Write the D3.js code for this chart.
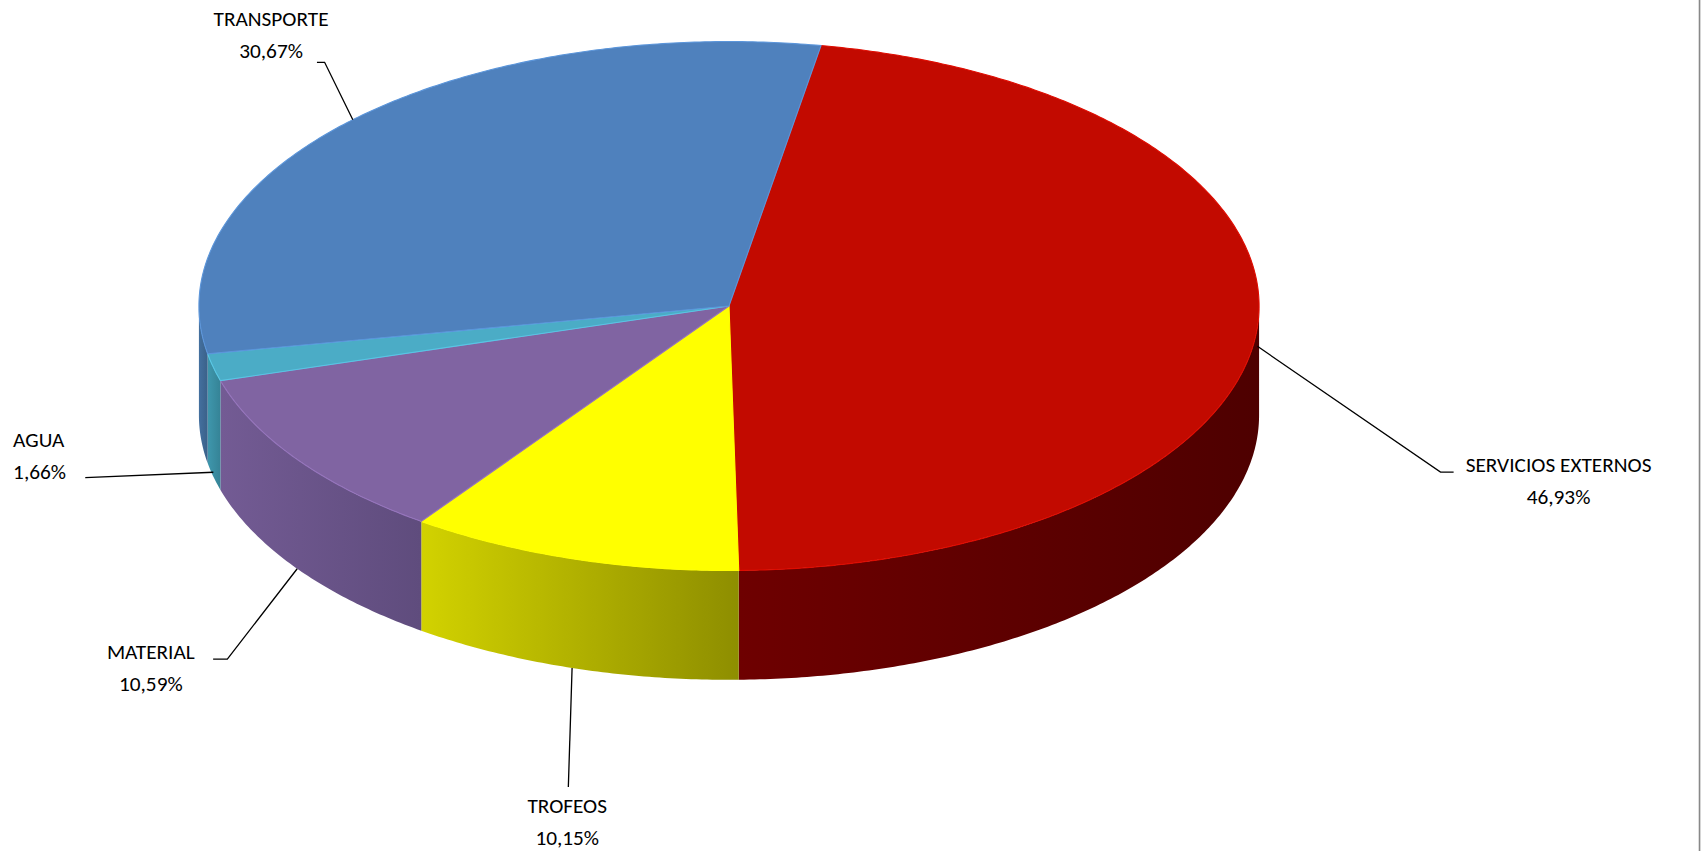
<!DOCTYPE html>
<html><head><meta charset="utf-8">
<script src="https://cdn.jsdelivr.net/npm/d3@7"></script>
<style>body{margin:0;background:#fff}svg{display:block}text{font-family:Carlito,Lato,"Open Sans",sans-serif;font-size:19.5px;fill:#000}</style>
</head><body><div id="chart"></div>
<script>
var categories = ["SERVICIOS EXTERNOS", "TROFEOS", "MATERIAL", "AGUA", "TRANSPORTE"];
var values = [46.93, 10.15, 10.59, 1.66, 30.67];
var labels = ["46,93%", "10,15%", "10,59%", "1,66%", "30,67%"];
var topColors = ["#C20A00", "#FFFF00", "#8064A2", "#4BACC6", "#4F81BD"];
var sideLight = ["#6e0000", "#d2d200", "#735b94", "#3f97ad", "#44709f"];
var sideDark = ["#4e0000", "#8e8e00", "#5f4c7d", "#358396", "#3a6189"];

var width = 1705, height = 851, k = 1705 / 1560;
var cx = 667, cy = 280, rx = 485, ry = 242, depth = 100;

var svg = d3.select("#chart").append("svg").attr("width", width).attr("height", height)
  .append("g").attr("transform", "scale(" + k + ")");

var pie = d3.pie().sort(null).startAngle(10 * Math.PI / 180).endAngle(10 * Math.PI / 180 + 2 * Math.PI);
var arcs = pie(values);

function pt(a, dy) { return [cx + rx * Math.sin(a), cy - ry * Math.cos(a) + (dy || 0)]; }
function edge(a0, a1, dy) {
  var n = Math.max(2, Math.ceil(Math.abs(a1 - a0) / 0.01));
  return d3.range(n + 1).map(function(i){ return pt(a0 + (a1 - a0) * i / n, dy); });
}
var line = d3.line();

var defs = svg.append("defs");
arcs.forEach(function(d, i){
  var g = defs.append("linearGradient").attr("id", "g" + i).attr("x1", "0").attr("x2", "1").attr("y1", "0").attr("y2", "0");
  g.append("stop").attr("offset", "0").attr("stop-color", sideLight[i]);
  g.append("stop").attr("offset", "1").attr("stop-color", sideDark[i]);
});

// front sides
arcs.forEach(function(d, i){
  var lo = Math.PI / 2, hi = 3 * Math.PI / 2;
  [0, 2 * Math.PI].forEach(function(off){
    var a0 = Math.max(d.startAngle, lo + off), a1 = Math.min(d.endAngle, hi + off);
    if (a1 <= a0) return;
    var pts = edge(a0, a1, 0).concat(edge(a1, a0, depth));
    svg.append("path").attr("d", line(pts) + "Z").attr("fill", "url(#g" + i + ")");
  });
});

// tops
arcs.forEach(function(d, i){
  var pts = [[cx, cy]].concat(edge(d.startAngle, d.endAngle, 0));
  svg.append("path").attr("d", line(pts) + "Z").attr("fill", topColors[i])
    .attr("stroke", d3.color(topColors[i]).brighter(0.4)).attr("stroke-width", 1);
});

// label layout
var labelPos = [
  {x: 1426, y: 432, anchor: "middle", depthFrac: 0.18, lead: [[1318, 432], [1330, 432]]},
  {x: 519, y: 744, anchor: "middle", depthFrac: 1, lead: [[520, 720]]},
  {x: 138, y: 603, anchor: "middle", depthFrac: 1, lead: [[208, 603], [195, 603]]},
  {x: 12, y: 409, anchor: "start", depthFrac: 0.96, lead: [[78, 437]]},
  {x: 248, y: 24, anchor: "middle", depthFrac: 0, lead: [[297, 57], [290, 57]]}
];
arcs.forEach(function(d, i){
  var lp = labelPos[i];
  var a = pt((d.startAngle + d.endAngle) / 2, depth * lp.depthFrac);
  svg.append("path").attr("d", line([a].concat(lp.lead))).attr("fill", "none").attr("stroke", "#000").attr("stroke-width", 1.2);
  var t = svg.append("text").attr("x", lp.x).attr("y", lp.y).attr("text-anchor", lp.anchor);
  t.append("tspan").attr("x", lp.x).text(categories[i]);
  t.append("tspan").attr("x", lp.x).attr("dy", 29).text(labels[i]);
});

svg.append("line").attr("x1", 1555).attr("x2", 1555).attr("y1", 0).attr("y2", height).attr("stroke", "#888").attr("stroke-width", 1.5);
</script></body></html>
